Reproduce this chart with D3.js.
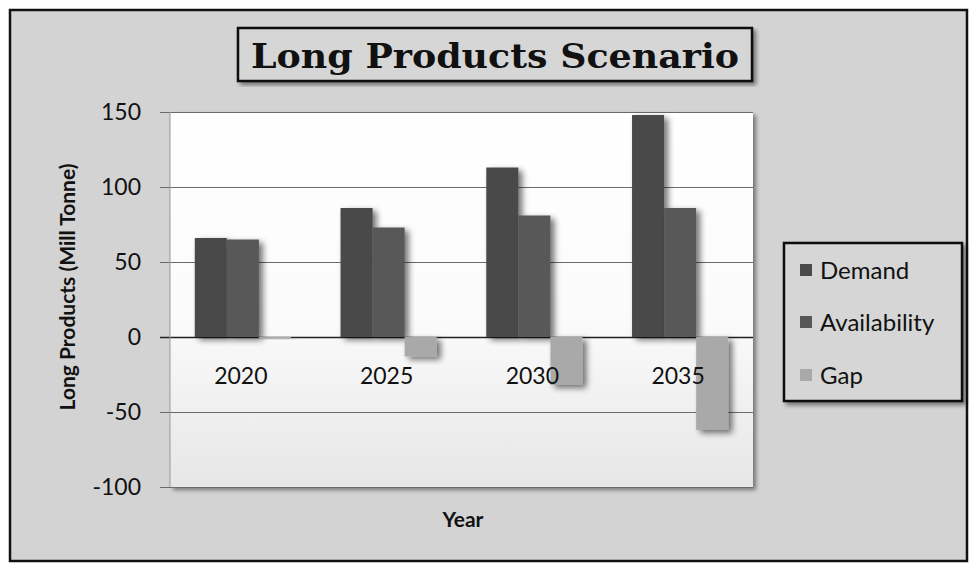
<!DOCTYPE html>
<html>
<head>
<meta charset="utf-8">
<script src="https://cdn.jsdelivr.net/npm/d3@7"></script>
<style>
  html, body { margin: 0; padding: 0; background: #ffffff; }
  svg { display: block; }
</style>
</head>
<body>
<svg id="chart" width="969" height="563"></svg>
<script>
const categories = ["2020", "2025", "2030", "2035"];
const seriesNames = ["Demand", "Availability", "Gap"];
const demand = [66, 86, 113, 148];
const availability = [65, 73, 81, 86];
const gap = [-1, -13, -32, -62];
const yTicks = [-100, -50, 0, 50, 100, 150];
const titleText = "Long Products Scenario";
const yAxisTitle = "Long Products (Mill Tonne)";
const xAxisTitle = "Year";

const seriesValues = [demand, availability, gap];
const colors = ["#4a4a4a", "#585858", "#a9a9a9"];

const svg = d3.select("#chart");
const plot = { left: 170, right: 753, top: 112, bottom: 487 };

const defs = svg.append("defs");
const grad = defs.append("linearGradient").attr("id", "plotGrad")
  .attr("x1", 0).attr("y1", 0).attr("x2", 0).attr("y2", 1);
grad.append("stop").attr("offset", "0%").attr("stop-color", "#ffffff");
grad.append("stop").attr("offset", "55%").attr("stop-color", "#fbfbfb");
grad.append("stop").attr("offset", "100%").attr("stop-color", "#e6e6e6");

const shadow = defs.append("filter").attr("id", "barShadow")
  .attr("x", "-30%").attr("y", "-30%").attr("width", "170%").attr("height", "170%");
shadow.append("feGaussianBlur").attr("in", "SourceAlpha").attr("stdDeviation", 3).attr("result", "b");
shadow.append("feOffset").attr("in", "b").attr("dx", 4).attr("dy", 3).attr("result", "o");
shadow.append("feComponentTransfer").attr("in", "o").attr("result", "s")
  .append("feFuncA").attr("type", "linear").attr("slope", 0.55);
const merge = shadow.append("feMerge");
merge.append("feMergeNode").attr("in", "s");
merge.append("feMergeNode").attr("in", "SourceGraphic");

const boxShadow = defs.append("filter").attr("id", "boxShadow")
  .attr("x", "-5%").attr("y", "-5%").attr("width", "115%").attr("height", "115%");
boxShadow.append("feGaussianBlur").attr("in", "SourceAlpha").attr("stdDeviation", 2).attr("result", "b");
boxShadow.append("feOffset").attr("in", "b").attr("dx", 3).attr("dy", 3).attr("result", "o");
boxShadow.append("feComponentTransfer").attr("in", "o").attr("result", "s")
  .append("feFuncA").attr("type", "linear").attr("slope", 0.45);
const m2 = boxShadow.append("feMerge");
m2.append("feMergeNode").attr("in", "s");
m2.append("feMergeNode").attr("in", "SourceGraphic");

// chart background + outer frame
svg.append("rect").attr("x", 10).attr("y", 10).attr("width", 957).attr("height", 551)
  .attr("fill", "#d3d3d3").attr("stroke", "#111").attr("stroke-width", 2.5);

// scales
const y = d3.scaleLinear().domain([-100, 150]).range([plot.bottom, plot.top]);
const x0 = d3.scaleBand().domain(categories).range([plot.left, plot.right])
  .paddingInner(0.34).paddingOuter(0.17);
const x1 = d3.scaleBand().domain(seriesNames).range([0, x0.bandwidth()]).padding(0);

// plot area
svg.append("rect").attr("x", plot.left).attr("y", plot.top)
  .attr("width", plot.right - plot.left).attr("height", plot.bottom - plot.top)
  .attr("fill", "url(#plotGrad)").attr("filter", "url(#boxShadow)");

// gridlines with tick marks (extend left of plot)
const gy = svg.append("g").attr("transform", `translate(${plot.right},0)`);
gy.call(d3.axisRight(y).tickValues(yTicks).tickSize(-(plot.right - plot.left + 10)).tickFormat(""));
gy.select(".domain").remove();
gy.selectAll(".tick line").attr("stroke", d => d === 0 ? "#222" : "#6a6a6a")
  .attr("stroke-width", d => d === 0 ? 1.3 : 1);

// y tick labels (plain hyphen minus as in the reference)
svg.append("g").selectAll("text").data(yTicks).join("text")
  .attr("x", 141).attr("y", d => y(d)).attr("dy", "0.35em")
  .attr("text-anchor", "end")
  .attr("font-family", "Lato, 'Open Sans', sans-serif").attr("font-size", 23)
  .attr("fill", "#111")
  .text(d => String(d));

// left axis line (light)
svg.append("line").attr("x1", plot.left).attr("x2", plot.left)
  .attr("y1", plot.top).attr("y2", plot.bottom)
  .attr("stroke", "#9a9a9a").attr("stroke-width", 1);

// bars
const groups = svg.append("g").selectAll("g").data(categories).join("g")
  .attr("transform", d => `translate(${x0(d)},0)`);
groups.selectAll("rect")
  .data((c, i) => seriesNames.map((s, j) => ({ s, v: seriesValues[j][i], j })))
  .join("rect")
  .attr("x", d => x1(d.s))
  .attr("width", x1.bandwidth())
  .attr("y", d => y(Math.max(0, d.v)))
  .attr("height", d => Math.abs(y(d.v) - y(0)))
  .attr("fill", d => colors[d.j])
  .attr("filter", "url(#barShadow)");

// category labels, just below zero line
svg.append("g").selectAll("text").data(categories).join("text")
  .attr("x", d => x0(d) + x0.bandwidth() / 2 - 2)
  .attr("y", y(0) + 47)
  .attr("text-anchor", "middle")
  .attr("font-family", "Lato, 'Open Sans', sans-serif").attr("font-size", 23)
  .attr("fill", "#111")
  .text(d => d);

// axis titles
svg.append("text")
  .attr("transform", `translate(75, 287) rotate(-90)`)
  .attr("text-anchor", "middle")
  .attr("font-family", "Lato, 'Open Sans', sans-serif").attr("font-weight", "bold")
  .attr("font-size", 21).attr("fill", "#111")
  .text(yAxisTitle);
svg.append("text")
  .attr("x", 463).attr("y", 527)
  .attr("text-anchor", "middle")
  .attr("font-family", "Lato, 'Open Sans', sans-serif").attr("font-weight", "bold")
  .attr("font-size", 21).attr("fill", "#111")
  .text(xAxisTitle);

// title box
svg.append("rect").attr("x", 238).attr("y", 28).attr("width", 514).attr("height", 53)
  .attr("fill", "#d6d6d6").attr("stroke", "#111").attr("stroke-width", 2.5)
  .attr("filter", "url(#boxShadow)");
svg.append("text")
  .attr("x", 495).attr("y", 68)
  .attr("text-anchor", "middle")
  .attr("font-family", "'DejaVu Serif', 'Liberation Serif', serif").attr("font-weight", "bold")
  .attr("font-size", 34).attr("fill", "#111")
  .attr("textLength", 488).attr("lengthAdjust", "spacingAndGlyphs")
  .text(titleText);

// legend
const lg = svg.append("g");
lg.append("rect").attr("x", 784).attr("y", 243).attr("width", 178).attr("height", 158)
  .attr("fill", "#d6d6d6").attr("stroke", "#111").attr("stroke-width", 2.5)
  .attr("filter", "url(#boxShadow)");
const legendY = [270, 322, 375];
const li = lg.selectAll("g.item").data(seriesNames).join("g").attr("class", "item")
  .attr("transform", (d, i) => `translate(800, ${legendY[i]})`);
li.append("rect").attr("x", 0).attr("y", -6).attr("width", 12).attr("height", 12)
  .attr("fill", (d, i) => colors[i]);
li.append("text").attr("x", 20).attr("y", 0).attr("dy", "0.36em")
  .attr("font-family", "Lato, 'Open Sans', sans-serif").attr("font-size", 24)
  .attr("fill", "#111")
  .text(d => d);
</script>
</body>
</html>
